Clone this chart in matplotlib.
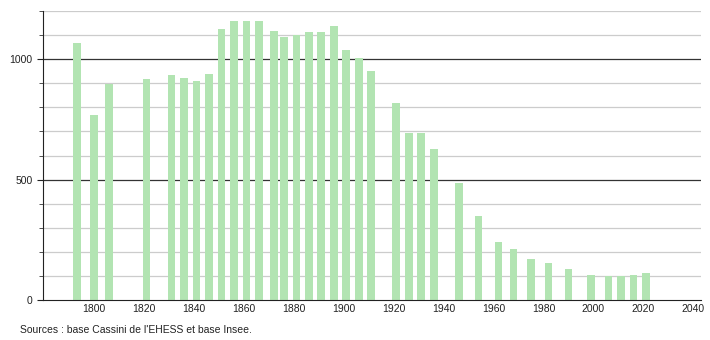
import matplotlib
matplotlib.use("Agg")
import matplotlib.pyplot as plt

plt.rcParams['font.family'] = ['Liberation Sans', 'DejaVu Sans']

# census years and population
years = [1793, 1800, 1806, 1821, 1831, 1836, 1841, 1846, 1851, 1856, 1861, 1866,
         1872, 1876, 1881, 1886, 1891, 1896, 1901, 1906, 1911, 1921, 1926, 1931,
         1936, 1946, 1954, 1962, 1968, 1975, 1982, 1990, 1999, 2006, 2011, 2016, 2021]
population = [1066, 768, 899, 917, 934, 920, 910, 939, 1124, 1158, 1158, 1158,
              1116, 1094, 1100, 1112, 1112, 1138, 1037, 1005, 950, 817, 693, 693,
              629, 485, 350, 242, 212, 170, 154, 129, 104, 98, 98, 104, 112]

xticks = list(range(1800, 2041, 20))
source = "Sources : base Cassini de l'EHESS et base Insee."

fig = plt.figure(figsize=(7.1, 3.4), dpi=100)
ax = fig.add_axes([0.0606, 0.1176, 0.9264, 0.85])

# light grid every 100, darker at 500 / 1000
for v in range(100, 1201, 100):
    if v % 500 == 0:
        ax.axhline(v, color='#333333', lw=0.9, zorder=1)
    else:
        ax.axhline(v, color='#cccccc', lw=0.9, zorder=1)

ax.bar(years, population, width=3.1, color='#b2e4b2', zorder=2)

ax.set_xlim(1779.5, 2043)
ax.set_ylim(0, 1200)
ax.set_xticks(xticks)
ax.set_yticks([0, 500, 1000])
ax.set_yticks(range(100, 1201, 100), minor=True)
ax.tick_params(axis='x', length=0, labelsize=7.5, pad=3, colors='#222222')
ax.tick_params(axis='y', which='major', length=4, labelsize=7.5, colors='#222222')
ax.tick_params(axis='y', which='minor', length=3, color='#333333')

for s in ['top', 'right']:
    ax.spines[s].set_visible(False)
ax.spines['left'].set_color('#222222')
ax.spines['bottom'].set_color('#222222')

fig.text(0.028, 0.022, source, fontsize=7.5, color='#222222')

fig.savefig('out.png', dpi=100)
